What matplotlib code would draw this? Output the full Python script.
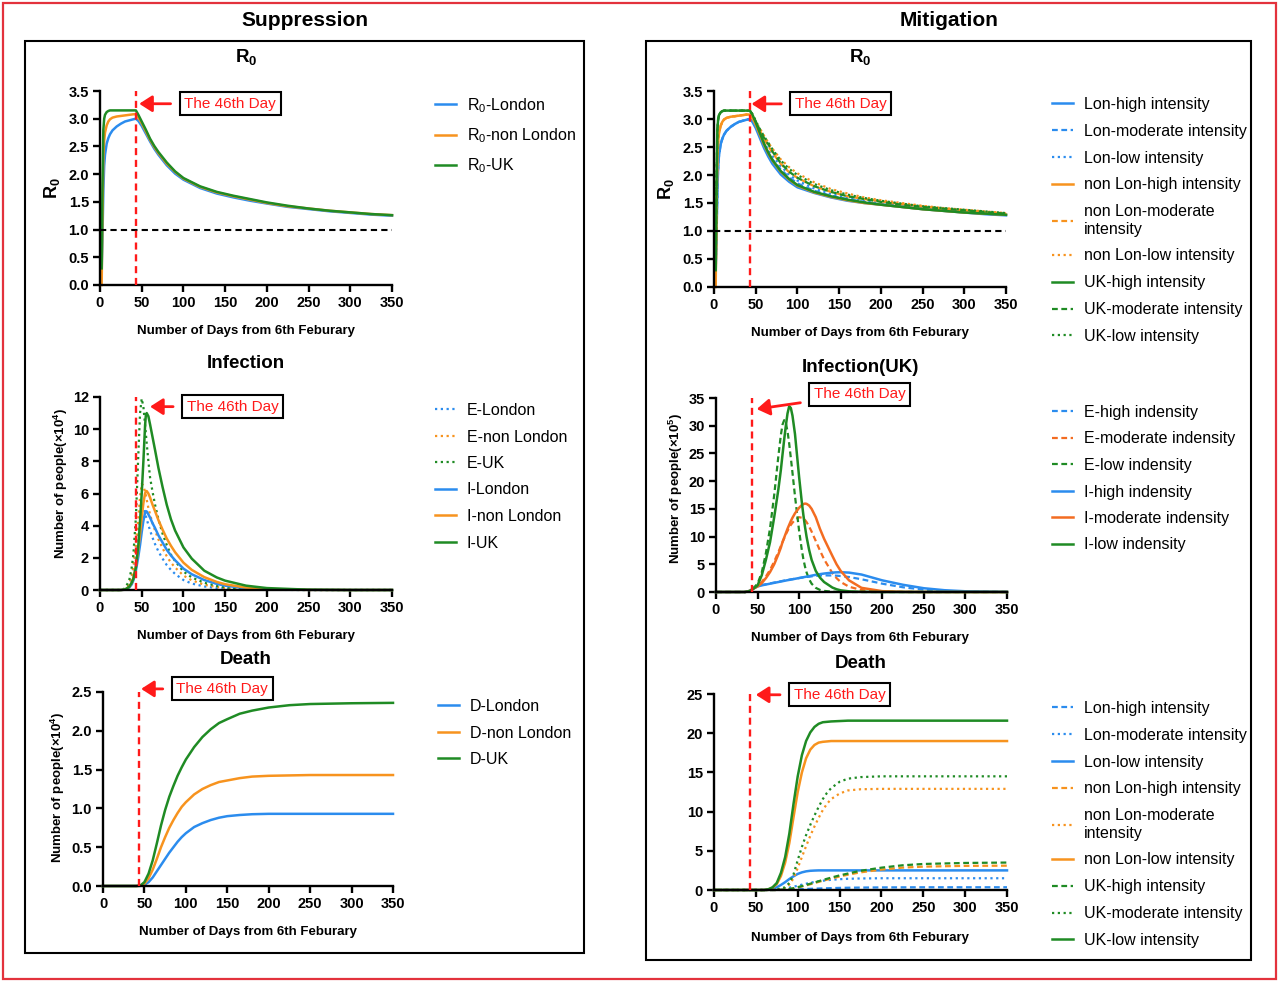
import numpy as np
import matplotlib
matplotlib.use("Agg")
import matplotlib.pyplot as plt
from matplotlib.patches import Rectangle
from matplotlib.ticker import FormatStrFormatter

plt.rcParams['font.family'] = ['Liberation Sans', 'DejaVu Sans']
plt.rcParams['mathtext.fontset'] = 'custom'
plt.rcParams['mathtext.rm'] = 'Liberation Sans'
plt.rcParams['mathtext.it'] = 'Liberation Sans:italic'
plt.rcParams['mathtext.bf'] = 'Liberation Sans:bold'
plt.rcParams['mathtext.default'] = 'regular'
plt.rcParams['axes.unicode_minus'] = False

# ---------------- data ----------------
# R0, suppression
days_r0 = [2, 3, 4, 5, 6, 8, 10, 12, 15, 20, 25, 30, 35, 40, 43,
           46, 50, 55, 60, 65, 70, 80, 90, 100, 120, 140, 160, 180, 200, 225, 250, 275, 300, 325, 350]
r0_london = [0.25, 0.9, 1.7, 2.15, 2.35, 2.55, 2.65, 2.72, 2.79, 2.86, 2.91, 2.95, 2.97, 2.99, 3.0,
             2.96, 2.87, 2.73, 2.59, 2.46, 2.35, 2.16, 2.01, 1.9, 1.75, 1.65, 1.58, 1.52, 1.47, 1.41, 1.37, 1.33, 1.3, 1.27, 1.25]
r0_nonlondon = [0.0, 1.3, 2.3, 2.6, 2.75, 2.88, 2.95, 2.99, 3.02, 3.04, 3.05, 3.06, 3.07, 3.08, 3.08,
                3.02, 2.92, 2.77, 2.62, 2.49, 2.38, 2.19, 2.04, 1.92, 1.77, 1.67, 1.6, 1.54, 1.48, 1.42, 1.38, 1.34, 1.31, 1.28, 1.26]
r0_uk = [0.3, 1.8, 2.8, 3.0, 3.07, 3.12, 3.14, 3.15, 3.15, 3.15, 3.15, 3.15, 3.15, 3.15, 3.15,
         3.07, 2.95, 2.8, 2.64, 2.51, 2.4, 2.21, 2.05, 1.93, 1.78, 1.68, 1.61, 1.55, 1.49, 1.43, 1.38, 1.34, 1.31, 1.28, 1.26]

# R0, mitigation (same early rise per region, then one decline per scenario)
rise_lon = r0_london[:15]
rise_nonlon = r0_nonlondon[:15]
rise_uk = r0_uk[:15]
dec_lon_high = [2.95, 2.84, 2.66, 2.48, 2.33, 2.2, 2.01, 1.88, 1.78, 1.68, 1.6, 1.54, 1.5, 1.47, 1.43, 1.39, 1.36, 1.33, 1.3, 1.28]
dec_lon_mod = [2.96, 2.86, 2.7, 2.54, 2.4, 2.28, 2.1, 1.96, 1.85, 1.72, 1.63, 1.57, 1.52, 1.48, 1.44, 1.4, 1.37, 1.34, 1.31, 1.29]
dec_lon_low = [2.96, 2.87, 2.73, 2.58, 2.45, 2.34, 2.16, 2.01, 1.9, 1.76, 1.66, 1.59, 1.54, 1.5, 1.45, 1.41, 1.38, 1.35, 1.32, 1.29]
dec_nl_high = [3.02, 2.9, 2.72, 2.54, 2.39, 2.26, 2.06, 1.92, 1.81, 1.69, 1.61, 1.55, 1.5, 1.47, 1.43, 1.39, 1.36, 1.33, 1.31, 1.29]
dec_nl_mod = [3.03, 2.93, 2.79, 2.65, 2.52, 2.4, 2.2, 2.05, 1.95, 1.8, 1.7, 1.62, 1.57, 1.53, 1.48, 1.44, 1.4, 1.37, 1.34, 1.31]
dec_nl_low = [3.04, 2.95, 2.83, 2.7, 2.58, 2.47, 2.28, 2.14, 2.03, 1.87, 1.75, 1.67, 1.6, 1.55, 1.5, 1.45, 1.41, 1.38, 1.35, 1.32]
dec_uk_high = [3.08, 2.94, 2.75, 2.56, 2.4, 2.27, 2.07, 1.93, 1.82, 1.7, 1.62, 1.56, 1.51, 1.47, 1.43, 1.39, 1.36, 1.33, 1.31, 1.29]
dec_uk_mod = [3.08, 2.96, 2.8, 2.66, 2.55, 2.42, 2.21, 2.06, 1.95, 1.8, 1.7, 1.62, 1.57, 1.52, 1.47, 1.43, 1.4, 1.37, 1.34, 1.31]
dec_uk_low = [3.09, 2.97, 2.82, 2.69, 2.58, 2.46, 2.26, 2.11, 2.0, 1.84, 1.73, 1.65, 1.59, 1.54, 1.49, 1.44, 1.41, 1.38, 1.35, 1.32]

# Infection, suppression (x10^4)
days_inf = [0, 25, 30, 35, 38, 40, 43, 46, 48, 50, 52, 54, 55, 56, 58, 60, 63, 66, 70, 75,
            80, 85, 90, 100, 110, 125, 140, 150, 175, 200, 250, 300, 350]
e_london = [0, 0, 0.05, 0.3, 0.7, 1.2, 2.2, 3.6, 4.5, 5.2, 5.1, 4.8, 4.6, 4.4, 4.05, 3.7, 3.25, 2.85, 2.4, 1.95,
            1.55, 1.25, 1.0, 0.62, 0.4, 0.22, 0.12, 0.08, 0.03, 0.01, 0, 0, 0]
e_nonlondon = [0, 0, 0.05, 0.35, 0.9, 1.5, 2.8, 4.5, 5.8, 6.6, 6.5, 6.1, 5.9, 5.6, 5.1, 4.7, 4.15, 3.7, 3.15, 2.6,
               2.1, 1.7, 1.4, 0.9, 0.6, 0.33, 0.18, 0.12, 0.04, 0.015, 0, 0, 0]
e_uk = [0, 0, 0.1, 0.6, 1.4, 2.2, 4.5, 8.5, 11.0, 11.9, 11.4, 10.3, 9.7, 9.1, 8.0, 7.0, 6.1, 5.3, 4.4, 3.5,
        2.8, 2.2, 1.8, 1.15, 0.78, 0.45, 0.25, 0.17, 0.06, 0.02, 0, 0, 0]
i_london = [0, 0, 0.02, 0.15, 0.35, 0.6, 1.2, 2.1, 2.8, 3.6, 4.3, 4.8, 4.9, 4.88, 4.7, 4.5, 4.15, 3.85, 3.4, 2.95,
            2.5, 2.15, 1.85, 1.33, 0.98, 0.62, 0.38, 0.27, 0.11, 0.05, 0.01, 0, 0]
i_nonlondon = [0, 0, 0.02, 0.2, 0.45, 0.75, 1.5, 2.6, 3.5, 4.5, 5.4, 6.0, 6.15, 6.15, 6.0, 5.75, 5.3, 4.9, 4.35, 3.75,
               3.2, 2.75, 2.35, 1.7, 1.25, 0.8, 0.5, 0.36, 0.15, 0.06, 0.01, 0, 0]
i_uk = [0, 0, 0.03, 0.2, 0.45, 0.7, 1.4, 2.8, 4.3, 6.0, 8.0, 10.2, 10.9, 11.0, 10.8, 10.3, 9.5, 8.7, 7.6, 6.4,
        5.3, 4.4, 3.7, 2.65, 1.95, 1.2, 0.78, 0.58, 0.27, 0.12, 0.02, 0, 0]

# Death, suppression (x10^4)
days_d = [0, 40, 45, 50, 55, 60, 65, 70, 75, 80, 85, 90, 95, 100, 110, 120, 130, 140, 150, 165, 180, 200, 225, 250, 300, 350]
d_london = [0, 0, 0.002, 0.015, 0.05, 0.11, 0.19, 0.27, 0.35, 0.43, 0.5, 0.57, 0.63, 0.68, 0.76, 0.81, 0.85, 0.88, 0.9,
            0.915, 0.925, 0.93, 0.93, 0.93, 0.93, 0.93]
d_nonlondon = [0, 0, 0.003, 0.03, 0.1, 0.21, 0.35, 0.5, 0.63, 0.75, 0.85, 0.94, 1.02, 1.08, 1.18, 1.25, 1.3, 1.34, 1.36,
               1.39, 1.41, 1.42, 1.425, 1.43, 1.43, 1.43]
d_uk = [0, 0, 0.005, 0.05, 0.16, 0.33, 0.55, 0.78, 0.98, 1.15, 1.29, 1.42, 1.53, 1.63, 1.79, 1.92, 2.02, 2.1, 2.15,
        2.22, 2.26, 2.3, 2.33, 2.345, 2.355, 2.36]

# Infection (UK), mitigation (x10^5)
days_uk = [0, 35, 40, 45, 50, 55, 60, 65, 70, 75, 78, 80, 82, 84, 86, 88, 90, 92, 95, 100,
           103, 105, 107, 109, 112, 115, 120, 125, 130, 140, 145, 150, 160, 175, 200, 225, 250, 275, 300, 350]
e_high = [0, 0, 0.2, 0.7, 1.1, 1.25, 1.4, 1.55, 1.7, 1.85, 1.94, 2.0, 2.06, 2.12, 2.18, 2.22, 2.28, 2.32, 2.4, 2.52,
          2.59, 2.63, 2.67, 2.71, 2.76, 2.82, 2.9, 2.96, 3.0, 2.98, 2.94, 2.88, 2.7, 2.3, 1.5, 0.85, 0.42, 0.18, 0.07, 0.01]
e_mod = [0, 0, 0.2, 0.7, 1.1, 1.8, 2.8, 4.0, 5.5, 7.2, 8.3, 9.0, 9.7, 10.4, 11.0, 11.6, 12.1, 12.5, 13.0, 13.5,
         13.4, 13.25, 13.0, 12.6, 11.8, 10.9, 9.2, 7.5, 5.9, 3.4, 2.5, 1.8, 0.95, 0.35, 0.06, 0.01, 0, 0, 0, 0]
e_low = [0, 0, 0.2, 0.7, 1.5, 3.5, 7.0, 11.5, 17.5, 24.5, 28.3, 30.2, 31.0, 30.5, 29.0, 26.8, 24.2, 21.5, 17.3, 11.0,
         7.8, 6.0, 4.6, 3.5, 2.3, 1.5, 0.75, 0.38, 0.2, 0.05, 0.03, 0.01, 0, 0, 0, 0, 0, 0, 0, 0]
i_high = [0, 0, 0.15, 0.6, 1.0, 1.2, 1.35, 1.5, 1.65, 1.8, 1.89, 1.95, 2.01, 2.07, 2.13, 2.18, 2.24, 2.29, 2.38, 2.52,
          2.61, 2.66, 2.72, 2.77, 2.85, 2.95, 3.1, 3.22, 3.33, 3.5, 3.55, 3.57, 3.5, 3.15, 2.1, 1.3, 0.68, 0.32, 0.13, 0.02]
i_mod = [0, 0, 0.15, 0.6, 1.0, 1.6, 2.5, 3.6, 5.0, 6.8, 8.0, 9.0, 9.8, 10.6, 11.4, 12.1, 12.8, 13.4, 14.2, 15.2,
         15.65, 15.85, 15.95, 15.9, 15.6, 15.0, 13.5, 11.4, 9.6, 6.5, 5.0, 3.8, 2.1, 0.75, 0.15, 0.03, 0, 0, 0, 0]
i_low = [0, 0, 0.15, 0.6, 1.2, 3.0, 5.8, 9.0, 13.5, 18.5, 22.0, 24.8, 27.5, 30.0, 32.2, 33.5, 33.2, 31.8, 28.5, 20.7,
         16.5, 14.0, 11.8, 9.9, 7.6, 5.8, 3.8, 2.6, 1.8, 0.8, 0.5, 0.3, 0.12, 0.03, 0, 0, 0, 0, 0, 0]

# Death, mitigation
days_dm = [0, 60, 65, 70, 75, 80, 85, 90, 95, 100, 105, 110, 115, 120, 125, 130, 135, 140, 150, 160, 175, 200, 225, 250, 300, 350]
dm_lon_high = [0, 0, 0, 0, 0.01, 0.02, 0.03, 0.05, 0.07, 0.09, 0.11, 0.13, 0.15, 0.17, 0.19, 0.21, 0.225, 0.24, 0.27, 0.29, 0.31, 0.33, 0.34, 0.35, 0.35, 0.35]
dm_lon_mod = [0, 0, 0.01, 0.03, 0.07, 0.12, 0.2, 0.3, 0.42, 0.55, 0.68, 0.8, 0.92, 1.02, 1.1, 1.18, 1.25, 1.3, 1.38, 1.43, 1.47, 1.5, 1.5, 1.5, 1.5, 1.5]
dm_lon_low = [0, 0, 0.05, 0.15, 0.35, 0.65, 1.0, 1.4, 1.75, 2.05, 2.25, 2.38, 2.45, 2.48, 2.5, 2.5, 2.5, 2.5, 2.5, 2.5, 2.5, 2.5, 2.5, 2.5, 2.5, 2.5]
dm_nl_high = [0, 0, 0, 0, 0, 0.02, 0.05, 0.11, 0.2, 0.32, 0.45, 0.59, 0.73, 0.88, 1.03, 1.18, 1.32, 1.46, 1.72, 1.95, 2.25, 2.6, 2.85, 2.98, 3.08, 3.1]
dm_nl_mod = [0, 0, 0, 0.01, 0.05, 0.15, 0.3, 0.7, 1.5, 2.8, 4.2, 5.6, 6.9, 8.1, 9.2, 10.2, 11.0, 11.6, 12.3, 12.7, 12.85, 12.9, 12.9, 12.9, 12.9, 12.9]
dm_nl_low = [0, 0, 0.08, 0.3, 0.75, 1.8, 3.5, 6.0, 9.3, 12.5, 15.0, 16.8, 17.9, 18.5, 18.8, 18.9, 18.95, 19.0, 19.0, 19.0, 19.0, 19.0, 19.0, 19.0, 19.0, 19.0]
dm_uk_high = [0, 0, 0, 0, 0, 0.02, 0.06, 0.13, 0.23, 0.36, 0.5, 0.65, 0.8, 0.96, 1.12, 1.28, 1.43, 1.58, 1.86, 2.1, 2.45, 2.85, 3.15, 3.32, 3.45, 3.5]
dm_uk_mod = [0, 0, 0, 0.02, 0.08, 0.2, 0.35, 0.9, 2.0, 3.8, 5.5, 7.0, 8.3, 9.5, 10.6, 11.6, 12.4, 13.0, 13.8, 14.2, 14.4, 14.5, 14.5, 14.5, 14.5, 14.5]
dm_uk_low = [0, 0, 0.1, 0.35, 0.9, 2.2, 4.2, 7.2, 11.0, 14.5, 17.2, 19.0, 20.1, 20.8, 21.2, 21.4, 21.45, 21.5, 21.55, 21.6, 21.6, 21.6, 21.6, 21.6, 21.6, 21.6]

DAY_MARK = 43

# ---------------- style ----------------
BLUE = '#2b8cee'
ORANGE = '#f7931e'
ORANGE2 = '#f36c21'
GREEN = '#1f8b24'
RED = '#ff1a1a'
SOLID = '-'
DASH = (0, (2.6, 1.6))
DOT = (0, (1.0, 1.6))

W, H = 1280, 983
fig = plt.figure(figsize=(12.8, 9.83), dpi=100, facecolor='white')


def add_ax(x0, x1, ytop, ybot):
    return fig.add_axes([x0 / W, 1 - ybot / H, (x1 - x0) / W, (ybot - ytop) / H])


def ftext(x, y, s, **kw):
    fig.text(x / W, 1 - y / H, s, ha='center', va='center', **kw)


def style_ax(ax, ymax, ystep, yfmt):
    ax.set_xlim(0, 350)
    ax.set_ylim(0, ymax)
    ax.set_xticks(np.arange(0, 351, 50))
    ax.set_yticks(np.arange(0, ymax + 1e-9, ystep))
    ax.yaxis.set_major_formatter(FormatStrFormatter(yfmt))
    ax.spines['top'].set_visible(False)
    ax.spines['right'].set_visible(False)
    for s in ['left', 'bottom']:
        ax.spines[s].set_linewidth(1.7)
    ax.tick_params(direction='out', length=5, width=1.7, labelsize=10.5, pad=3)
    for lab in ax.get_xticklabels() + ax.get_yticklabels():
        lab.set_fontweight('bold')


def mark_day(ax, ytop, tip, text_xy):
    ax.plot([DAY_MARK, DAY_MARK], [0, ytop], color=RED, ls=(0, (3, 2)), lw=1.7, clip_on=False, zorder=5)
    ax.annotate('The 46th Day', xy=tip, xytext=text_xy, ha='center', va='center', color=RED, fontsize=11,
                bbox=dict(boxstyle='square,pad=0.3', fc='white', ec='black', lw=1.5),
                arrowprops=dict(arrowstyle='-|>,head_length=0.7,head_width=0.45', color=RED, lw=2,
                                shrinkA=6, shrinkB=0),
                annotation_clip=False, zorder=6)


def add_legend(ax, x, ytop, spacing=0.72):
    ax.legend(loc='upper left', bbox_to_anchor=(x / W, 1 - ytop / H), bbox_transform=fig.transFigure,
              frameon=False, fontsize=11.5, borderpad=0, borderaxespad=0, handlelength=1.3,
              handletextpad=0.7, labelspacing=spacing)


def line(ax, x, y, color, ls, label):
    ax.plot(x, y, color=color, ls=ls, lw=1.8 if ls == SOLID else 1.6, label=label, clip_on=False)


# ---------------- frames ----------------
fig.add_artist(Rectangle((3 / W, 1 - 979 / H), 1273 / W, 976 / H, transform=fig.transFigure,
                         fill=False, ec='#e3323c', lw=1.6))
fig.add_artist(Rectangle((25 / W, 1 - 953 / H), 559 / W, 912 / H, transform=fig.transFigure,
                         fill=False, ec='black', lw=1.5))
fig.add_artist(Rectangle((646 / W, 1 - 960 / H), 605 / W, 919 / H, transform=fig.transFigure,
                         fill=False, ec='black', lw=1.5))
ftext(305, 20, 'Suppression', fontsize=15, fontweight='bold')
ftext(949, 20, 'Mitigation', fontsize=15, fontweight='bold')

XLAB = 'Number of Days from 6th Feburary'

# ---- suppression R0 ----
ax = add_ax(100, 392, 91, 285)
line(ax, days_r0, r0_london, BLUE, SOLID, 'R$_0$-London')
line(ax, days_r0, r0_nonlondon, ORANGE, SOLID, 'R$_0$-non London')
line(ax, days_r0, r0_uk, GREEN, SOLID, 'R$_0$-UK')
ax.axhline(1.0, color='black', ls=(0, (3, 2)), lw=1.5)
style_ax(ax, 3.5, 0.5, '%.1f')
mark_day(ax, 3.5, (47, 3.27), (156, 3.27))
add_legend(ax, 435, 96, spacing=0.72)
ftext(246, 57, 'R$_0$', fontsize=13.5, fontweight='bold')
ftext(246, 331, XLAB, fontsize=9.5, fontweight='bold')
ftext(52, 188, 'R$_0$', fontsize=13, fontweight='bold', rotation=90)

# ---- suppression infection ----
ax = add_ax(100, 392, 397, 590)
line(ax, days_inf, e_london, BLUE, DOT, 'E-London')
line(ax, days_inf, e_nonlondon, ORANGE, DOT, 'E-non London')
line(ax, days_inf, e_uk, GREEN, DOT, 'E-UK')
line(ax, days_inf, i_london, BLUE, SOLID, 'I-London')
line(ax, days_inf, i_nonlondon, ORANGE, SOLID, 'I-non London')
line(ax, days_inf, i_uk, GREEN, SOLID, 'I-UK')
style_ax(ax, 12, 2, '%d')
mark_day(ax, 12, (60, 11.4), (159, 11.4))
add_legend(ax, 435, 403)
ftext(246, 364, 'Infection', fontsize=13.5, fontweight='bold')
ftext(246, 636, XLAB, fontsize=9.5, fontweight='bold')
ftext(61, 484, 'Number of people(×10$^4$)', fontsize=9.5, fontweight='bold', rotation=90)

# ---- suppression death ----
ax = add_ax(103, 393, 692, 886)
line(ax, days_d, d_london, BLUE, SOLID, 'D-London')
line(ax, days_d, d_nonlondon, ORANGE, SOLID, 'D-non London')
line(ax, days_d, d_uk, GREEN, SOLID, 'D-UK')
style_ax(ax, 2.5, 0.5, '%.1f')
mark_day(ax, 2.5, (46, 2.54), (144, 2.54))
add_legend(ax, 438, 699)
ftext(246, 660, 'Death', fontsize=13.5, fontweight='bold')
ftext(248, 932, XLAB, fontsize=9.5, fontweight='bold')
ftext(58, 788, 'Number of people(×10$^4$)', fontsize=9.5, fontweight='bold', rotation=90)

# ---- mitigation R0 ----
ax = add_ax(714, 1006, 91, 287)
r0_sets = [
    (rise_lon, dec_lon_high, BLUE, SOLID, 'Lon-high intensity'),
    (rise_lon, dec_lon_mod, BLUE, DASH, 'Lon-moderate intensity'),
    (rise_lon, dec_lon_low, BLUE, DOT, 'Lon-low intensity'),
    (rise_nonlon, dec_nl_high, ORANGE, SOLID, 'non Lon-high intensity'),
    (rise_nonlon, dec_nl_mod, ORANGE, DASH, 'non Lon-moderate\nintensity'),
    (rise_nonlon, dec_nl_low, ORANGE, DOT, 'non Lon-low intensity'),
    (rise_uk, dec_uk_high, GREEN, SOLID, 'UK-high intensity'),
    (rise_uk, dec_uk_mod, GREEN, DASH, 'UK-moderate intensity'),
    (rise_uk, dec_uk_low, GREEN, DOT, 'UK-low intensity'),
]
for rise, dec, c, ls, lab in r0_sets:
    line(ax, days_r0, list(rise) + list(dec), c, ls, lab)
ax.axhline(1.0, color='black', ls=(0, (3, 2)), lw=1.5)
style_ax(ax, 3.5, 0.5, '%.1f')
mark_day(ax, 3.5, (45, 3.27), (152, 3.27))
add_legend(ax, 1052, 97, spacing=0.74)
ftext(860, 57, 'R$_0$', fontsize=13.5, fontweight='bold')
ftext(860, 333, XLAB, fontsize=9.5, fontweight='bold')
ftext(666, 189, 'R$_0$', fontsize=13, fontweight='bold', rotation=90)

# ---- mitigation infection (UK) ----
ax = add_ax(716, 1007, 398, 592)
line(ax, days_uk, e_high, BLUE, DASH, 'E-high indensity')
line(ax, days_uk, e_mod, ORANGE2, DASH, 'E-moderate indensity')
line(ax, days_uk, e_low, GREEN, DASH, 'E-low indensity')
line(ax, days_uk, i_high, BLUE, SOLID, 'I-high indensity')
line(ax, days_uk, i_mod, ORANGE2, SOLID, 'I-moderate indensity')
line(ax, days_uk, i_low, GREEN, SOLID, 'I-low indensity')
style_ax(ax, 35, 5, '%d')
mark_day(ax, 35, (49, 33.0), (173, 35.7))
add_legend(ax, 1052, 405)
ftext(860, 367, 'Infection(UK)', fontsize=13.5, fontweight='bold')
ftext(860, 638, XLAB, fontsize=9.5, fontweight='bold')
ftext(676, 489, 'Number of people(×10$^5$)', fontsize=9.5, fontweight='bold', rotation=90)

# ---- mitigation death ----
ax = add_ax(714, 1007, 694, 890)
line(ax, days_dm, dm_lon_high, BLUE, DASH, 'Lon-high intensity')
line(ax, days_dm, dm_lon_mod, BLUE, DOT, 'Lon-moderate intensity')
line(ax, days_dm, dm_lon_low, BLUE, SOLID, 'Lon-low intensity')
line(ax, days_dm, dm_nl_high, ORANGE, DASH, 'non Lon-high intensity')
line(ax, days_dm, dm_nl_mod, ORANGE, DOT, 'non Lon-moderate\nintensity')
line(ax, days_dm, dm_nl_low, ORANGE, SOLID, 'non Lon-low intensity')
line(ax, days_dm, dm_uk_high, GREEN, DASH, 'UK-high intensity')
line(ax, days_dm, dm_uk_mod, GREEN, DOT, 'UK-moderate intensity')
line(ax, days_dm, dm_uk_low, GREEN, SOLID, 'UK-low intensity')
style_ax(ax, 25, 5, '%d')
mark_day(ax, 25, (50, 24.9), (150, 24.9))
add_legend(ax, 1052, 701, spacing=0.74)
ftext(861, 663, 'Death', fontsize=13.5, fontweight='bold')
ftext(860, 938, XLAB, fontsize=9.5, fontweight='bold')

fig.savefig('out.png', dpi=100, facecolor='white')
